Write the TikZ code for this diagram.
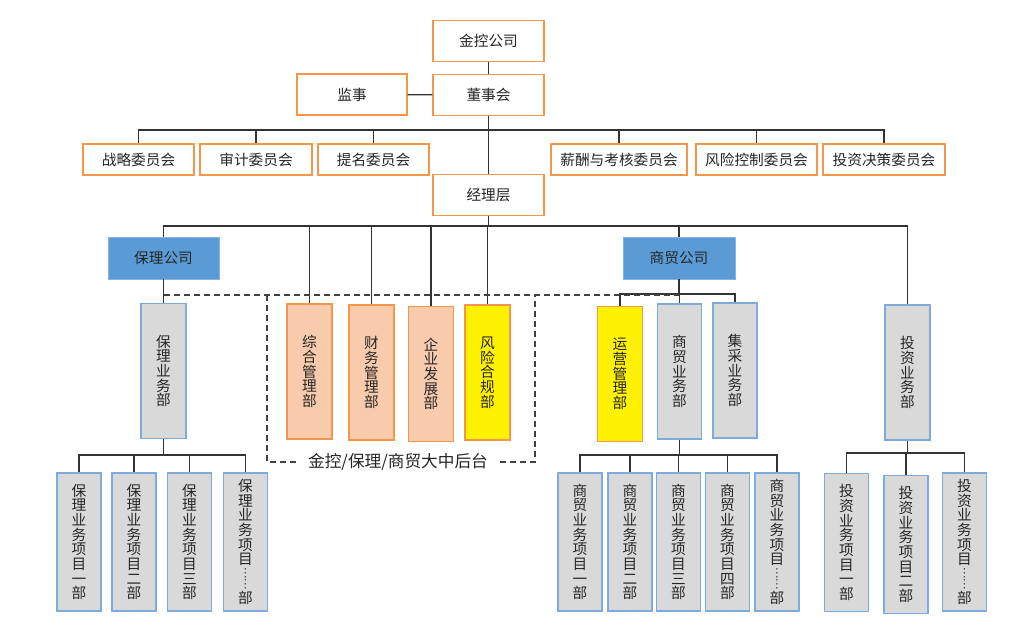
\documentclass[tikz,border=0pt]{standalone}
\usepackage{fontspec}
\setmainfont{Noto Sans CJK SC}
\usetikzlibrary{positioning,calc}
\definecolor{orgline}{RGB}{245,150,75}
\definecolor{peach}{RGB}{248,203,173}
\definecolor{blfill}{RGB}{91,155,213}
\definecolor{grfill}{RGB}{217,217,217}
\definecolor{blline}{RGB}{125,172,220}
\newcommand{\deptfont}{\fontsize{11}{11}\selectfont}
\newcommand{\dotsdown}{\rotatebox[origin=c]{-90}{\fontsize{8}{8}\selectfont ……}}
\tikzset{
  lnk/.style={draw=black!80, line width=0.9pt},
  hbox/.style={draw=orgline, line width=0.9pt, fill=white, minimum width=#1*0.75pt, minimum height=41*0.75pt, inner sep=0pt},
  cbox/.style={hbox=#1, minimum height=31*0.75pt},
  cobox/.style={fill=blfill, draw=blfill!75!white, line width=0.6pt, minimum width=111*0.75pt, minimum height=42*0.75pt, inner sep=0pt},
  deptbox/.style={line width=0.9pt, minimum width=45*0.75pt, minimum height=135*0.75pt, inner sep=0pt, align=center, font=\deptfont},
  pdept/.style={deptbox, draw=orgline, fill=peach},
  ydept/.style={deptbox, draw=orgline, fill=yellow},
  gdept/.style={deptbox, draw=blline, fill=grfill},
  itembox/.style={gdept, minimum width=44*0.75pt, minimum height=138*0.75pt},
  dashline/.style={draw=black!75, line width=0.8pt, dash pattern=on 4.5pt off 3pt}
}

\begin{document}
\begin{tikzpicture}[x=0.75pt, y=-0.75pt, every node/.style={font=\fontsize{11}{11}\selectfont, text=black!85}]
    \path[use as bounding box] (0,0) rectangle (1025,642);

    \node[hbox=111] (jk) at (488.5,41) {金控公司};
    \node[hbox=111] (dsh) at (488.5,95) {董事会};
    \node[hbox=110] (js) at (352,94.5) {监事};
    \node[cbox=111] (zl) at (138.5,159.5) {战略委员会};
    \node[cbox=112] (sj) at (256,159.5) {审计委员会};
    \node[cbox=111] (tm) at (373.5,159.5) {提名委员会};
    \node[cbox=136] (xc) at (619,159.5) {薪酬与考核委员会};
    \node[cbox=121] (fk) at (756.5,159.5) {风险控制委员会};
    \node[cbox=122] (tz) at (884,159.5) {投资决策委员会};
    \node[hbox=111] (jl) at (488.5,195) {经理层};

    \node[cobox] (blgs) at (163.5,258) {保理公司};
    \node[cobox, minimum width=112*0.75pt] (smgs) at (679,258) {商贸公司};

    \node[gdept] (blyw) at (163.5,371) {保\\理\\业\\务\\部};
    \node[pdept] (zh) at (309.5,371.5) {综\\合\\管\\理\\部};
    \node[pdept] (cw) at (371.5,372.5) {财\\务\\管\\理\\部};
    \node[pdept] (qy) at (431,374) {企\\业\\发\\展\\部};
    \node[ydept] (fx) at (487.5,372.5) {风\\险\\合\\规\\部};
    \node[ydept] (yy) at (620,374) {运\\营\\管\\理\\部};
    \node[gdept, minimum width=44*0.75pt] (smyw) at (679.5,371.5) {商\\贸\\业\\务\\部};
    \node[gdept, minimum width=44*0.75pt] (jc) at (735,370.5) {集\\采\\业\\务\\部};
    \node[gdept] (tzyw) at (907.5,372.5) {投\\资\\业\\务\\部};

    \foreach \x/\n/\t in {79/bl1/一, 134/bl2/二, 189.5/bl3/三}
        \node[itembox] (\n) at (\x,542) {保\\理\\业\\务\\项\\目\\\t\\部};
    \node[itembox] (bl4) at (245.5,542) {保\\理\\业\\务\\项\\目\\\dotsdown\\部};
    \foreach \x/\n/\t in {580/sm1/一, 630/sm2/二, 678.5/sm3/三, 727.5/sm4/四}
        \node[itembox] (\n) at (\x,542) {商\\贸\\业\\务\\项\\目\\\t\\部};
    \node[itembox] (sm5) at (777,542) {商\\贸\\业\\务\\项\\目\\\dotsdown\\部};
    \node[itembox] (tz1) at (846.5,542.5) {投\\资\\业\\务\\项\\目\\一\\部};
    \node[itembox] (tz2) at (906,544.5) {投\\资\\业\\务\\项\\目\\二\\部};
    \node[itembox] (tz3) at (964.5,542) {投\\资\\业\\务\\项\\目\\\dotsdown\\部};

    \coordinate (cbus) at (488.5,130);
    \coordinate (mbus) at (488.5,226);
    \coordinate (sbus) at (679,294);
    \coordinate (bbus) at (163.5,455);
    \coordinate (mibus) at (679.5,455);
    \coordinate (tbus) at (907.5,453);

    \draw[lnk] (jk) -- (dsh);
    \draw[lnk] (js) -- (dsh);
    \draw[lnk] (dsh) -- (jl);
    \foreach \n in {zl,sj,tm,xc,fk,tz}
        \draw[lnk] (\n.north) |- (cbus);
    \draw[lnk] (jl) -- (mbus);
    \foreach \n in {blgs,zh,cw,qy,fx,smgs,tzyw}
        \draw[lnk] (\n.north) |- (mbus);
    \draw[lnk] (blgs) -- (blyw);
    \draw[lnk] (smgs) -- (sbus);
    \foreach \n in {yy,smyw,jc}
        \draw[lnk] (\n.north) |- (sbus);
    \draw[lnk] (blyw) -- (bbus);
    \foreach \n in {bl1,bl2,bl3,bl4}
        \draw[lnk] (\n.north) |- (bbus);
    \draw[lnk] (smyw) -- (mibus);
    \foreach \n in {sm1,sm2,sm3,sm4,sm5}
        \draw[lnk] (\n.north) |- (mibus);
    \draw[lnk] (tzyw) -- (tbus);
    \foreach \n in {tz1,tz2,tz3}
        \draw[lnk] (\n.north) |- (tbus);

    \draw[dashline] (163.5,295) -- (679,295);
    \draw[dashline] (267,295) |- (535,462) -- (535,295);
    \node[fill=white, inner xsep=9pt, inner ysep=1pt, font=\fontsize{12.5}{13}\selectfont] (zt) at (398,462) {金控/保理/商贸大中后台};
\end{tikzpicture}
\end{document}
